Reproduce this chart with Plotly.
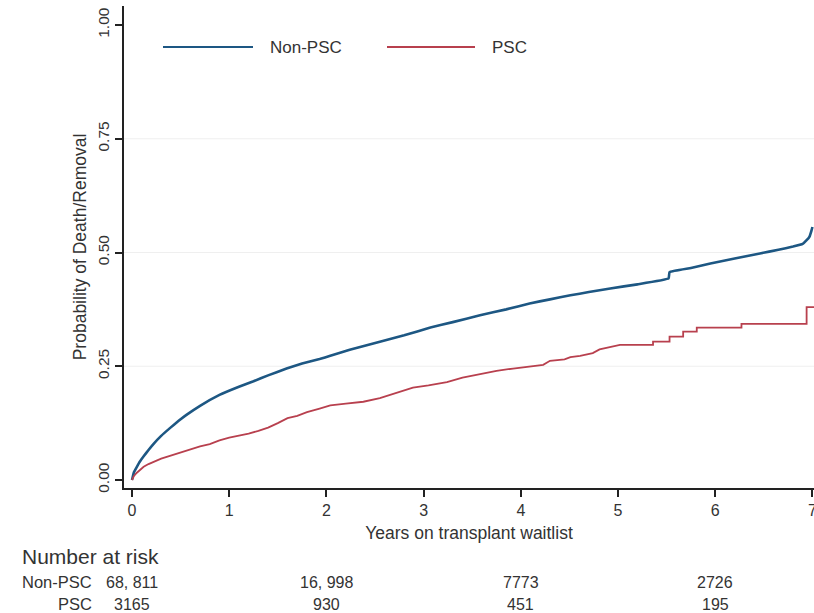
import plotly.graph_objects as go

# Cumulative probability of death/removal from the transplant waitlist
years_non_psc = [0, 0.02, 0.05, 0.08, 0.12, 0.17, 0.22, 0.3, 0.39, 0.48, 0.56, 0.7, 0.9,
                 1.1, 1.25, 1.4, 1.59, 1.75, 1.93, 2.04, 2.24, 2.55, 2.8, 3.07, 3.3, 3.58,
                 3.85, 4.09, 4.3, 4.51, 4.7, 4.92, 5.2, 5.52, 5.53, 5.75, 5.95, 6.2, 6.46,
                 6.65, 6.8, 6.9, 6.94, 6.97, 6.99, 7.0]
prob_non_psc = [0, 0.017, 0.029, 0.04, 0.052, 0.066, 0.079, 0.097, 0.114, 0.13, 0.143,
                0.163, 0.187, 0.205, 0.217, 0.23, 0.245, 0.256, 0.266, 0.273, 0.286, 0.304,
                0.318, 0.335, 0.347, 0.362, 0.375, 0.388, 0.397, 0.406, 0.413, 0.421, 0.43,
                0.443, 0.457, 0.466, 0.476, 0.487, 0.498, 0.506, 0.513, 0.519, 0.527, 0.535,
                0.548, 0.556]

years_psc = [0, 0.02, 0.05, 0.08, 0.12, 0.17, 0.22, 0.3, 0.39, 0.5, 0.6, 0.7, 0.8, 0.9,
             1.0, 1.1, 1.2, 1.3, 1.4, 1.5, 1.6, 1.7, 1.8, 1.93, 2.04, 2.2, 2.38, 2.55, 2.7,
             2.89, 3.05, 3.24, 3.4, 3.58, 3.75, 3.92, 4.1, 4.23, 4.3, 4.45, 4.51, 4.61, 4.74,
             4.81, 5.02, 5.36, 5.36, 5.53, 5.53, 5.67, 5.67, 5.81, 5.81, 6.27, 6.27, 6.94,
             6.94, 7.02]
prob_psc = [0, 0.009, 0.016, 0.022, 0.029, 0.035, 0.04, 0.047, 0.053, 0.061, 0.068, 0.074,
            0.079, 0.087, 0.093, 0.097, 0.102, 0.108, 0.115, 0.125, 0.136, 0.141, 0.149,
            0.157, 0.164, 0.168, 0.172, 0.18, 0.19, 0.203, 0.208, 0.215, 0.225, 0.233, 0.24,
            0.245, 0.249, 0.253, 0.262, 0.265, 0.27, 0.273, 0.279, 0.287, 0.297, 0.297,
            0.304, 0.304, 0.315, 0.315, 0.326, 0.326, 0.335, 0.335, 0.343, 0.343, 0.38, 0.38]

series_names = ["Non-PSC", "PSC"]
series_colors = ["#1d5783", "#b8404e"]

x_ticks = [0, 1, 2, 3, 4, 5, 6, 7]
y_ticks = [0, 0.25, 0.5, 0.75, 1.0]
grid_levels = [0.25, 0.5, 0.75]

# Number-at-risk table
risk_years = [0, 2, 4, 6]
risk_non_psc = ["68, 811", "16, 998", "7773", "2726"]
risk_psc = ["3165", "930", "451", "195"]

W, H = 814, 613
ML, MR, MT, MB = 124, 0, 6, 125
PW, PH = W - ML - MR, H - MT - MB


def px(xp):
    return (xp - ML) / PW


def py(yp):
    return (H - MB - yp) / PH


FONT = "Liberation Sans, Arial, sans-serif"
TXT = "#333333"

fig = go.Figure()
fig.add_trace(go.Scatter(x=years_non_psc, y=prob_non_psc, mode="lines",
                         line=dict(color=series_colors[0], width=2.6, shape="spline",
                                   smoothing=0.3),
                         name=series_names[0], showlegend=False))
fig.add_trace(go.Scatter(x=years_psc, y=prob_psc, mode="lines",
                         line=dict(color=series_colors[1], width=1.8),
                         name=series_names[1], showlegend=False))

shapes = []
for g in grid_levels:
    shapes.append(dict(type="line", xref="paper", yref="y", x0=0, x1=1, y0=g, y1=g,
                       line=dict(color="#efefef", width=1), layer="below"))

# Legend row along the top
legend_items = [(163, 253, 268), (387, 475, 490)]
annotations = []
for (x0, x1, xt), name, col in zip(legend_items, series_names, series_colors):
    shapes.append(dict(type="line", xref="paper", yref="paper", x0=px(x0), x1=px(x1),
                       y0=py(47), y1=py(47), line=dict(color=col, width=2)))
    annotations.append(dict(text=name, xref="paper", yref="paper", x=px(xt), y=py(47),
                            xanchor="left", yanchor="middle", showarrow=False,
                            font=dict(family=FONT, size=17, color=TXT)))

annotations.append(dict(text="Number at risk", xref="paper", yref="paper", x=px(20), y=py(556),
                        xanchor="left", yanchor="middle", showarrow=False,
                        font=dict(family=FONT, size=21, color=TXT)))
for label, row, ypix in [(series_names[0], risk_non_psc, 582), (series_names[1], risk_psc, 604)]:
    annotations.append(dict(text=label, xref="paper", yref="paper", x=px(94), y=py(ypix),
                            xanchor="right", yanchor="middle", showarrow=False,
                            font=dict(family=FONT, size=16.5, color=TXT)))
    for yr, val in zip(risk_years, row):
        annotations.append(dict(text=val, xref="x", yref="paper", x=yr, y=py(ypix),
                                xanchor="center", yanchor="middle", showarrow=False,
                                font=dict(family=FONT, size=16, color=TXT)))

fig.update_layout(
    width=W, height=H,
    margin=dict(l=ML, r=MR, t=MT, b=MB, autoexpand=False),
    paper_bgcolor="white", plot_bgcolor="white",
    shapes=shapes, annotations=annotations,
    showlegend=False,
    font=dict(family=FONT, color=TXT),
    xaxis=dict(range=[-0.0823, 7.016], tickvals=x_ticks, ticks="outside", ticklen=7,
               tickwidth=1.5, tickcolor="#222", showline=True, linecolor="#222", linewidth=1.5,
               showgrid=False, zeroline=False, tickfont=dict(size=16, color=TXT),
               ticklabeloverflow="allow", automargin=False,
               title=dict(text="Years on transplant waitlist", font=dict(size=17.5, color=TXT),
                          standoff=9)),
    yaxis=dict(range=[-0.0176, 1.0418], tickvals=y_ticks, tickformat=".2f", tickangle=-90,
               ticks="outside", ticklen=7, tickwidth=1.5, tickcolor="#222", showline=True,
               linecolor="#222", linewidth=1.5, showgrid=False, zeroline=False,
               tickfont=dict(size=15.5, color=TXT), automargin=False,
               title=dict(text="Probability of Death/Removal", font=dict(size=17.5, color=TXT),
                          standoff=4)),
)

fig.write_html("out.html")
